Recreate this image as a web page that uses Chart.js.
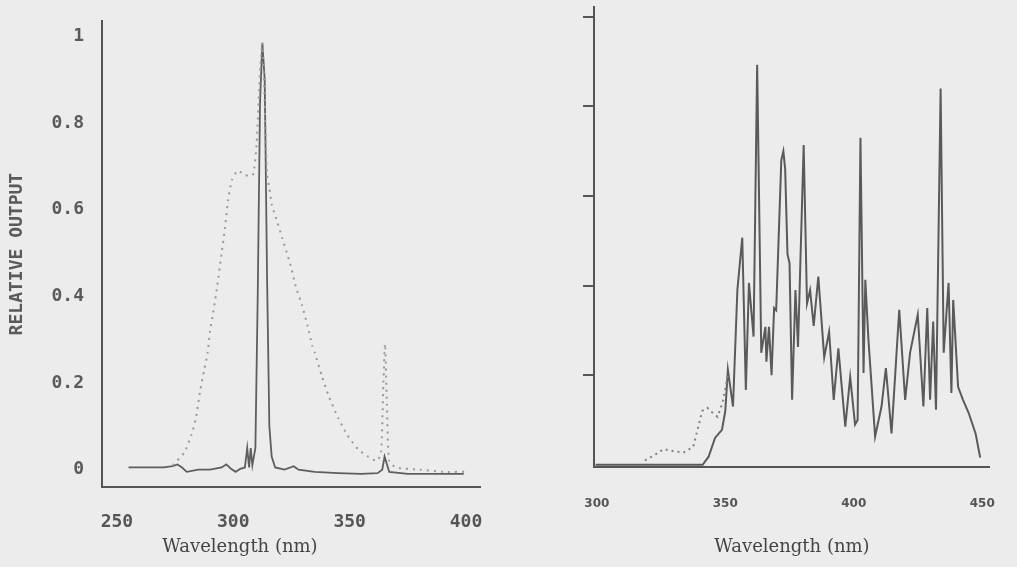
<!DOCTYPE html>
<html>
<head>
<meta charset="utf-8">
<script src="https://cdn.jsdelivr.net/npm/chart.js@4/dist/chart.umd.min.js"></script>
<style>
	body { margin: 0; background: #ececec; }
	#chart-left { position: absolute; left: 0; top: 0; }
	#chart-right { position: absolute; left: 510px; top: 0; }
</style>
</head>
<body>
<canvas id="chart-left" width="510" height="567"></canvas>
<canvas id="chart-right" width="507" height="567"></canvas>
<script>
// left panel - filtered lamp (solid) and broad lamp (dotted)
var leftLineNm  = [255, 260, 265, 270, 274, 276, 278, 280, 285, 290, 295, 297, 299, 301, 303, 305, 306, 306.8, 307.5, 308.2, 309.5, 310.5, 311.5, 312.5, 313.5, 314.5, 315.5, 316.5, 318, 322, 326, 328, 335, 345, 355, 362, 364, 365, 367, 375, 385, 399];
var leftLineVal = [0.005, 0.005, 0.005, 0.005, 0.008, 0.012, 0.005, -0.005, 0, 0, 0.005, 0.012, 0.002, -0.005, 0.002, 0.005, 0.05, 0.005, 0.05, 0.01, 0.05, 0.4, 0.85, 0.985, 0.9, 0.45, 0.1, 0.03, 0.005, 0, 0.008, 0, -0.005, -0.008, -0.01, -0.008, 0, 0.03, -0.005, -0.01, -0.01, -0.01];

var leftDotNm  = [274, 279, 282, 284, 285.7, 287.5, 289, 290, 291.3, 293, 295, 296.5, 297.7, 299.5, 302, 305, 308.4, 310, 311.5, 312.5, 313.5, 314.5, 315.5, 316.6, 319, 321, 323, 324.4, 327, 329.5, 332, 334, 335, 338, 341, 345, 349, 353.6, 358, 361.7, 363.5, 364.5, 365.2, 366, 367, 370, 380, 390, 400];
var leftDotVal = [0.01, 0.04, 0.08, 0.12, 0.18, 0.23, 0.27, 0.32, 0.36, 0.42, 0.5, 0.56, 0.62, 0.67, 0.69, 0.68, 0.68, 0.75, 0.92, 0.985, 0.85, 0.68, 0.65, 0.61, 0.57, 0.535, 0.5, 0.476, 0.42, 0.38, 0.33, 0.285, 0.27, 0.217, 0.17, 0.12, 0.08, 0.047, 0.03, 0.02, 0.04, 0.2, 0.29, 0.15, 0.02, 0.005, 0, -0.005, -0.005];

var leftXTicks = [250, 300, 350, 400];
var leftYTicks = [0, 0.2, 0.4, 0.6, 0.8, 1];

// right panel - solar spectrum (solid) and simulator (dotted)
var rightLineNm  = [299.5, 310, 320, 330, 341.2, 343.5, 346, 348.7, 350, 351, 353, 354.7, 356.6, 358, 359.2, 361, 362.4, 364, 365.6, 366, 367, 368, 369, 369.8, 371.8, 372.6, 373.3, 374.2, 375, 376, 377.3, 378.3, 380.5, 381.8, 383, 384.4, 386.2, 388.5, 390.4, 392.2, 394, 396.7, 398.6, 400.5, 401.5, 402.6, 403.8, 404.5, 405.7, 408.3, 410.8, 412.5, 414.7, 417.7, 420, 421.9, 424.9, 427.1, 428.6, 429.7, 430.9, 432, 433.8, 435, 436.9, 438, 438.7, 440.6, 442.5, 444.7, 447.4, 449.2];
var rightLineVal = [0, 0, 0, 0, 0, 0.018, 0.06, 0.078, 0.12, 0.212, 0.13, 0.39, 0.507, 0.167, 0.406, 0.286, 0.893, 0.25, 0.308, 0.23, 0.308, 0.2, 0.35, 0.345, 0.68, 0.7, 0.66, 0.47, 0.45, 0.145, 0.39, 0.263, 0.714, 0.36, 0.39, 0.31, 0.42, 0.24, 0.297, 0.145, 0.26, 0.085, 0.196, 0.09, 0.1, 0.73, 0.205, 0.413, 0.28, 0.063, 0.13, 0.216, 0.07, 0.346, 0.145, 0.25, 0.335, 0.13, 0.35, 0.145, 0.32, 0.123, 0.84, 0.25, 0.406, 0.16, 0.368, 0.174, 0.145, 0.116, 0.07, 0.016];

var rightDotNm  = [318.7, 322, 326, 330, 333.7, 337.5, 339.4, 341, 343, 345, 347, 349, 351];
var rightDotVal = [0.01, 0.02, 0.035, 0.03, 0.027, 0.04, 0.083, 0.12, 0.127, 0.116, 0.107, 0.14, 0.2];

var rightXTicks = [300, 350, 400, 450];
var rightYTicks = [0.2, 0.4, 0.6, 0.8, 1];

function toPoints(xs, ys)
{
	return xs.map(function(x, i) { return { x: x, y: ys[i] }; });
}

var monoFont = { family: "DejaVu Sans Mono", size: 18, weight: "bold" };
var serifFont = { family: "DejaVu Serif", size: 18, weight: "normal" };

new Chart(document.getElementById("chart-left"), {
	type: "line",
	data: {
		datasets: [
			{ data: toPoints(leftDotNm, leftDotVal), borderColor: "#999", borderWidth: 2, borderDash: [2, 5], pointRadius: 0, tension: 0.2 },
			{ data: toPoints(leftLineNm, leftLineVal), borderColor: "#5e5e5e", borderWidth: 1.8, pointRadius: 0 }
		]
	},
	options: {
		responsive: false,
		animation: false,
		layout: { padding: { top: 10, right: 30, left: 0, bottom: 0 } },
		plugins: {
			legend: { display: false },
			tooltip: { enabled: false },
			title: { display: true, text: "Wavelength (nm)", position: "bottom", font: serifFont, color: "#444", padding: { top: 0, bottom: 9 } }
		},
		scales: {
			x: {
				type: "linear", min: 243.6, max: 406,
				grid: { display: false },
				border: { color: "#555", width: 2 },
				afterBuildTicks: function(s) { s.ticks = leftXTicks.map(function(v) { return { value: v }; }); },
				afterFit: function(s) { s.height = 49; },
				ticks: { font: monoFont, color: "#555", padding: 16, maxRotation: 0 }
			},
			y: {
				min: -0.041, max: 1.036,
				grid: { display: false },
				border: { color: "#555", width: 2 },
				afterBuildTicks: function(s) { s.ticks = leftYTicks.map(function(v) { return { value: v }; }); },
				afterFit: function(s) { s.width = 102; },
				ticks: {
					font: monoFont, color: "#5a5a5a", padding: 10,
					callback: function(v) { return (v === 0 || v === 1) ? String(v) : v.toFixed(1); }
				},
				title: { display: true, text: "RELATIVE OUTPUT", font: monoFont, color: "#5a5a5a", padding: { top: 7 } }
			}
		}
	}
});

new Chart(document.getElementById("chart-right"), {
	type: "line",
	data: {
		datasets: [
			{ data: toPoints(rightDotNm, rightDotVal), borderColor: "#808080", borderWidth: 2, borderDash: [2, 4], pointRadius: 0 },
			{ data: toPoints(rightLineNm, rightLineVal), borderColor: "#5a5a5a", borderWidth: 2, pointRadius: 0 }
		]
	},
	options: {
		responsive: false,
		animation: false,
		layout: { padding: { top: 7, right: 12, left: 0, bottom: 0 } },
		plugins: {
			legend: { display: false },
			tooltip: { enabled: false }
		},
		scales: {
			x: {
				type: "linear", min: 298.9, max: 453,
				grid: { display: false },
				border: { color: "#555", width: 2 },
				afterBuildTicks: function(s) { s.ticks = rightXTicks.map(function(v) { return { value: v }; }); },
				afterFit: function(s) { s.height = 100; },
				ticks: { font: { family: "DejaVu Sans", size: 12, weight: "bold" }, color: "#555", padding: 22, maxRotation: 0 },
				title: { display: true, text: "Wavelength (nm)", font: serifFont, color: "#444", padding: { top: 0, bottom: 9 } }
			},
			y: {
				min: -0.005, max: 1.022,
				grid: { display: true, drawOnChartArea: false, drawTicks: true, tickLength: 11, color: "#555", lineWidth: 2 },
				border: { color: "#555", width: 2 },
				afterBuildTicks: function(s) { s.ticks = rightYTicks.map(function(v) { return { value: v }; }); },
				afterFit: function(s) { s.width = 84; },
				ticks: { display: false }
			}
		}
	}
});
</script>
</body>
</html>
